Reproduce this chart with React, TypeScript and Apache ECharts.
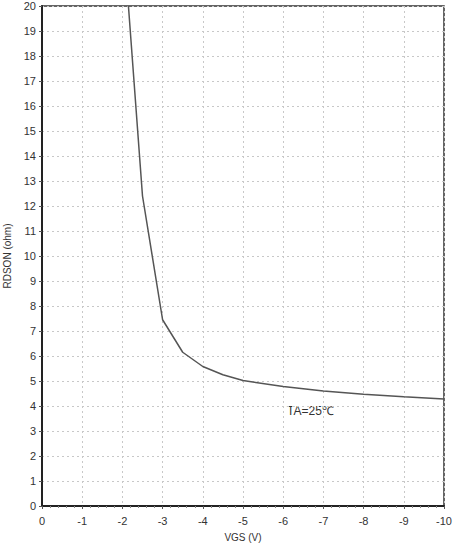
import React, { useEffect, useRef } from "react";
import * as echarts from "echarts";

const vgs = [-2.15, -2.5, -3, -3.5, -4, -4.5, -5, -6, -7, -8, -9, -10];
const rdson = [20, 12.4, 7.45, 6.15, 5.58, 5.25, 5.02, 4.78, 4.6, 4.47, 4.37, 4.28];
const xLabel = "VGS (V)";
const yLabel = "RDSON (ohm)";
const note = "TA=25℃";

const FONT = "'Liberation Sans Narrow', 'Liberation Sans', Arial, sans-serif";

export default function App() {
  const ref = useRef<HTMLDivElement>(null);
  useEffect(() => {
    const chart = echarts.init(ref.current!, null, { renderer: "svg" });
    const data = vgs.map((v, i) => [v, rdson[i]]);
    chart.setOption({
      animation: false,
      backgroundColor: "#ffffff",
      grid: {
        left: 42,
        top: 6,
        right: 10,
        bottom: 44,
        show: true,
        borderColor: "#333",
        borderWidth: 1.5,
        containLabel: false,
        outerBoundsMode: "none",
      },
      xAxis: {
        type: "value",
        min: -10,
        max: 0,
        interval: 1,
        inverse: true,
        name: xLabel,
        nameLocation: "middle",
        nameGap: 26,
        nameTextStyle: { fontFamily: FONT, fontSize: 10, color: "#333" },
        axisLine: { show: true, onZero: false, lineStyle: { color: "#222", width: 2 } },
        axisTick: { show: true, length: 3, lineStyle: { color: "#555" } },
        minorTick: { show: true, splitNumber: 5, length: 2, lineStyle: { color: "#888" } },
        axisLabel: { fontFamily: FONT, fontSize: 11, color: "#333", margin: 9 },
        splitLine: { show: true, lineStyle: { color: "#c8c8c8", type: [2, 3], width: 1 } },
      },
      yAxis: {
        type: "value",
        min: 0,
        max: 20,
        interval: 1,
        name: yLabel,
        nameLocation: "middle",
        nameGap: 25,
        nameTextStyle: { fontFamily: FONT, fontSize: 10, color: "#333" },
        axisLine: { show: true, onZero: false, lineStyle: { color: "#222", width: 2 } },
        axisTick: { show: true, length: 3, lineStyle: { color: "#555" } },
        axisLabel: { fontFamily: FONT, fontSize: 11, color: "#333", margin: 6 },
        splitLine: { show: true, lineStyle: { color: "#c8c8c8", type: [2, 3], width: 1 } },
      },
      series: [
        {
          type: "line",
          data,
          symbol: "none",
          lineStyle: { color: "#555", width: 1.5 },
          clip: true,
        },
      ],
      graphic: [
        {
          type: "text",
          left: 287,
          top: 405,
          style: { text: note, fontFamily: FONT, fontSize: 12, fill: "#333" },
        },
      ],
    });
    return () => chart.dispose();
  }, []);
  return (
    <div
      ref={ref}
      style={{ position: "fixed", left: 0, top: 0, width: 454, height: 550 }}
    />
  );
}
